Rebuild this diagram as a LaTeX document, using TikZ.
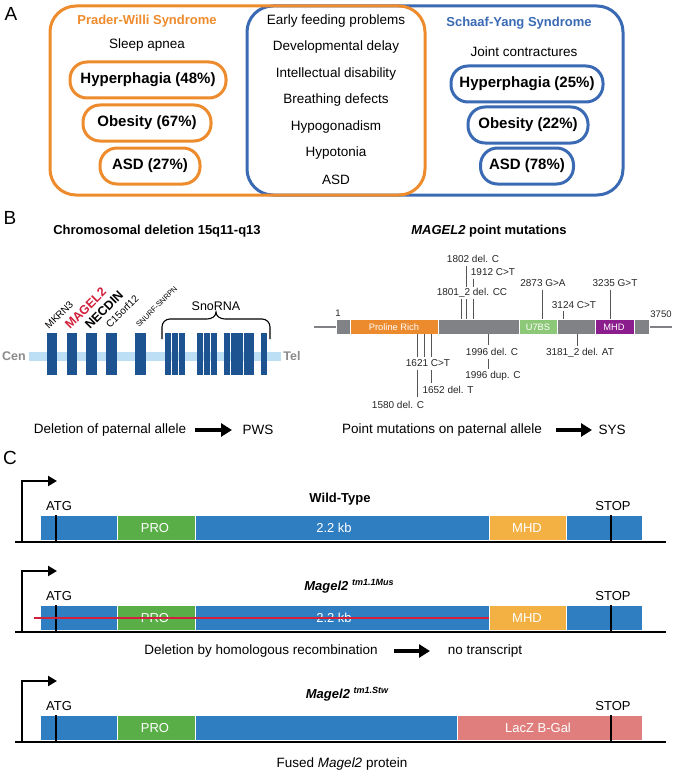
\documentclass[tikz,border=0pt]{standalone}
\usepackage{fontspec}
\setmainfont{Liberation Sans}
\usetikzlibrary{arrows.meta}
\definecolor{pwo}{HTML}{EE8B2C}
\definecolor{syb}{HTML}{3A6AB4}
\definecolor{gene}{HTML}{1D5391}
\definecolor{band}{HTML}{BDDFF5}
\definecolor{pgray}{HTML}{808285}
\definecolor{porange}{HTML}{EC8A2E}
\definecolor{pgreen}{HTML}{8DC878}
\definecolor{ppurple}{HTML}{8B1D8C}
\definecolor{cblue}{HTML}{2F7EC2}
\definecolor{cgreen}{HTML}{5AAE48}
\definecolor{cmhd}{HTML}{F3B144}
\definecolor{clacz}{HTML}{E07E7E}
\definecolor{cred}{HTML}{D2203C}
\definecolor{tickgray}{HTML}{555555}
\definecolor{cengray}{HTML}{8A8A8A}
\newcommand{\fsz}[1]{\fontsize{#1}{#1}\selectfont}
\begin{document}
\begin{tikzpicture}[x=1pt,y=-1pt,
  panellabel/.style={font=\fsz{19}, inner sep=0},
  pillo/.style={draw=pwo, line width=3pt, rounded corners=17pt, minimum height=36pt, inner sep=0, font=\fsz{15}\bfseries},
  pillb/.style={draw=syb, line width=3pt, rounded corners=17pt, minimum height=36pt, inner sep=0, font=\fsz{15}\bfseries},
  txt/.style={font=\fsz{13.5}, inner sep=0},
  mut/.style={font=\fsz{10}, inner sep=0, text=black!85},
  tick/.style={draw=tickgray, line width=0.9pt},
  glabel/.style={inner sep=0, anchor=base west, rotate=45},
  seg/.style={draw=white, line width=0.8pt},
  segtxt/.style={font=\fsz{9.3}, text=white, inner sep=0},
  bigarrow/.style={line width=4pt, -{Triangle[length=11pt,width=13pt]}},
  promoter/.style={line width=2.5pt, -{Triangle[length=9pt,width=10pt]}},
  ctxt/.style={font=\fsz{13}, inner sep=0},
  cseg/.style={draw=white, line width=1pt},
  ctick/.style={line width=2.8pt, black},
  baseline/.style={line width=2.6pt, black}
]
\useasboundingbox (0,0) rectangle (672,773);
\fill[white] (0,0) rectangle (672,773);

% ================= Panel A =================
\node[panellabel] (labA) at (11,14) {A};
\draw[syb, line width=3pt, rounded corners=26pt] (247,6) rectangle (623,195);
\draw[pwo, line width=3pt, rounded corners=26pt] (50,6) rectangle (425,195);

\node[txt, font=\fsz{13}\bfseries, text=pwo] (pwstitle) at (147,21) {Prader-Willi Syndrome};
\node[txt] (sleep) at (147,45) {Sleep apnea};
\node[pillo, minimum width=156pt] (pwh) at (148,80) {Hyperphagia (48\%)};
\node[pillo, minimum width=128pt] (pwo) at (147,123) {Obesity (67\%)};
\node[pillo, minimum width=100pt] (pwa) at (150,166) {ASD (27\%)};

\node[txt] (m1) at (336,21) {Early feeding problems};
\node[txt] (m2) at (336,47) {Developmental delay};
\node[txt] (m3) at (336,74) {Intellectual disability};
\node[txt] (m4) at (336,100) {Breathing defects};
\node[txt] (m5) at (336,127) {Hypogonadism};
\node[txt] (m6) at (336,153) {Hypotonia};
\node[txt] (m7) at (336,180) {ASD};

\node[txt, font=\fsz{13}\bfseries, text=syb] (systitle) at (519,23) {Schaaf-Yang Syndrome};
\node[txt] (joint) at (524,52) {Joint contractures};
\node[pillb, minimum width=152pt] (syh) at (527,84) {Hyperphagia (25\%)};
\node[pillb, minimum width=120pt] (syo) at (528,125) {Obesity (22\%)};
\node[pillb, minimum width=93pt] (sya) at (527,166) {ASD (78\%)};

% ================= Panel B =================
\node[panellabel] (labB) at (10,218) {B};
\node[txt, font=\fsz{13}\bfseries] (btitle1) at (157,231) {Chromosomal deletion 15q11-q13};
\node[txt, font=\fsz{13}\bfseries] (btitle2) at (489,231) {\itshape MAGEL2\upshape{} point mutations};

% chromosome
\fill[band] (29,352) rectangle (281,361);
\node[txt, font=\fsz{12.5}\bfseries, text=cengray] (cen) at (14,356) {Cen};
\node[txt, font=\fsz{12.5}\bfseries, text=cengray] (tel) at (292,356) {Tel};
\foreach \a/\b in {47/57,67/77,86/97,106/117,135/146,165/170.5,172/177.5,179/184.5,197/202.5,204/209.5,211/216.5,224/230,231/243,244/254,261/266.5}
  \fill[gene] (\a,333) rectangle (\b,375);
\node[glabel, font=\fsz{10}] (mkrn) at (49,330) {MKRN3};
\node[glabel, font=\fsz{12.5}\bfseries, text=cred] (magel) at (70,330) {MAGEL2};
\node[glabel, font=\fsz{12.5}\bfseries] (necdin) at (90,330) {NECDIN};
\node[glabel, font=\fsz{10}] (c15) at (110,329) {C15orf12};
\node[glabel, font=\fsz{7.5}] (snurf) at (139,328) {SNURF-SNRPN};
\node[txt, font=\fsz{12.5}] (sno) at (216,306) {SnoRNA};
\draw[line width=1.1pt] (162,339) -- (162,327) to[out=90,in=180] (170,319) -- (207,319) to[out=0,in=-90] (216,312)
  to[out=-90,in=180] (225,319) -- (262,319) to[out=0,in=90] (270,327) -- (270,339);

% protein
\coordinate (pl) at (314,327);
\coordinate (pr) at (672,327);
\draw[pgray, line width=2pt] (pl) -- (pr);
\fill[pgray, seg] (336,319) rectangle (350,334);
\fill[porange, seg] (350,319) rectangle (438,334);
\fill[pgray, seg] (438,319) rectangle (519,334);
\fill[pgreen, seg] (519,319) rectangle (557,334);
\fill[pgray, seg] (557,319) rectangle (595,334);
\fill[ppurple, seg] (595,319) rectangle (634,334);
\fill[pgray, seg] (634,319) rectangle (649,334);
\node[segtxt] (proline) at (394,327) {Proline Rich};
\node[segtxt] (u7bs) at (538,327) {U7BS};
\node[segtxt] (mhd) at (614,327) {MHD};
\node[mut, font=\fsz{9.5}] (one) at (338,313) {1};
\node[mut, font=\fsz{9.5}] (end) at (661,314) {3750};

% mutations above
\node[mut] (m1802) at (473,259) {1802 del. C};
\node[mut] (m1912) at (493,272) {1912 C>T};
\node[mut] (m1801) at (472,293) {1801\_2 del. CC};
\node[mut] (m2873) at (543,283) {2873 G>A};
\node[mut] (m3235) at (615,283) {3235 G>T};
\node[mut] (m3124) at (574,305) {3124 C>T};
\draw[tick] (466,266) -- (466,287);
\draw[tick] (473,279) -- (473,287);
\foreach \x in {461,466,473} \draw[tick] (\x,299) -- (\x,319);
\draw[tick] (542,290) -- (542,319);
\draw[tick] (610,290) -- (610,319);
\draw[tick] (563,311) -- (563,319);

% mutations below
\foreach \x in {417,424,431} \draw[tick] (\x,334) -- (\x,357);
\node[mut] (m1621) at (428,363) {1621 C>T};
\draw[tick] (417,370) -- (417,397);
\draw[tick] (431,370) -- (431,383);
\node[mut] (m1652) at (448,390) {1652 del. T};
\node[mut] (m1580) at (398,405) {1580 del. C};
\draw[tick] (488,334) -- (488,345);
\node[mut] (m1996a) at (492,352) {1996 del. C};
\draw[tick] (488,359) -- (488,369);
\node[mut] (m1996b) at (493,376) {1996 dup. C};
\draw[tick] (577,334) -- (577,346);
\node[mut] (m3181) at (580,353) {3181\_2 del. AT};

% conclusions
\node[txt, font=\fsz{13.5}] (delpat) at (110,430) {Deletion of paternal allele};
\node[txt, font=\fsz{13.5}] (pws) at (258,430) {PWS};
\draw[bigarrow] (195,430) -- (232,430);
\node[txt, font=\fsz{13.5}] (pointpat) at (442,430) {Point mutations on paternal allele};
\node[txt, font=\fsz{13.5}] (sys) at (612,430) {SYS};
\draw[bigarrow] (556,430) -- (592,430);

% ================= Panel C =================
\node[panellabel] (labC) at (10,458) {C};

% --- row 1: wild type
\draw[baseline] (15,542) -- (666,542);
\draw[promoter] (22,542) -- (22,481) -- (57,481);
\fill[cblue, cseg] (40,515) rectangle (117,540);
\fill[cgreen, cseg] (117,515) rectangle (195,540);
\fill[cblue, cseg] (195,515) rectangle (489,540);
\fill[cmhd, cseg] (489,515) rectangle (566,540);
\fill[cblue, cseg] (566,515) rectangle (642,540);
\draw[ctick] (56,515) -- (56,541);
\draw[ctick] (611,515) -- (611,541);
\node[ctxt] (atg1) at (59,506) {ATG};
\node[ctxt] (stop1) at (613,506) {STOP};
\node[ctxt, font=\fsz{13}\bfseries] (wt) at (340,499) {Wild-Type};
\node[ctxt, text=white] (pro1) at (155,528) {PRO};
\node[ctxt, text=white] (kb1) at (334,528) {2.2 kb};
\node[ctxt, text=white] (mhd1) at (527,528) {MHD};

% --- row 2: tm1.1Mus
\draw[baseline] (15,632) -- (666,632);
\draw[promoter] (22,632) -- (22,571) -- (57,571);
\fill[cblue, cseg] (40,605) rectangle (117,630);
\fill[cgreen, cseg] (117,605) rectangle (195,630);
\fill[cblue, cseg] (195,605) rectangle (489,630);
\fill[cmhd, cseg] (489,605) rectangle (566,630);
\fill[cblue, cseg] (566,605) rectangle (642,630);
\draw[ctick] (56,605) -- (56,631);
\draw[ctick] (611,605) -- (611,631);
\node[ctxt] (atg2) at (59,596) {ATG};
\node[ctxt] (stop2) at (613,596) {STOP};
\node[ctxt, font=\fsz{13}\bfseries\itshape] (mus) at (349,586) {Magel2 \raisebox{5pt}{\fsz{9}tm1.1Mus}};
\node[ctxt, text=white] (pro2) at (155,618) {PRO};
\node[ctxt, text=white] (kb2) at (334,618) {2.2 kb};
\node[ctxt, text=white] (mhd2) at (527,618) {MHD};
\coordinate (redA) at (34,618);
\coordinate (redB) at (489,618);
\draw[cred, line width=2.6pt] (redA) -- (redB);
\node[txt, font=\fsz{13.5}] (delhom) at (261,651) {Deletion by homologous recombination};
\draw[bigarrow] (394,651) -- (430,651);
\node[txt, font=\fsz{13.5}] (notr) at (485,651) {no transcript};

% --- row 3: tm1.Stw
\draw[baseline] (15,742) -- (666,742);
\draw[promoter] (22,742) -- (22,681) -- (57,681);
\fill[cblue, cseg] (40,715) rectangle (117,740);
\fill[cgreen, cseg] (117,715) rectangle (195,740);
\fill[cblue, cseg] (195,715) rectangle (457,740);
\fill[clacz, cseg] (457,715) rectangle (642,740);
\draw[ctick] (56,715) -- (56,741);
\draw[ctick] (611,715) -- (611,741);
\node[ctxt] (atg3) at (59,706) {ATG};
\node[ctxt] (stop3) at (613,706) {STOP};
\node[ctxt, font=\fsz{13}\bfseries\itshape] (stw) at (347,694) {Magel2 \raisebox{5pt}{\fsz{9}tm1.Stw}};
\node[ctxt, text=white] (pro3) at (155,728) {PRO};
\node[ctxt, text=white] (lacz) at (538,728) {LacZ B-Gal};
\node[txt, font=\fsz{13.5}] (fused) at (342,764) {Fused \textit{Magel2} protein};
\end{tikzpicture}
\end{document}
